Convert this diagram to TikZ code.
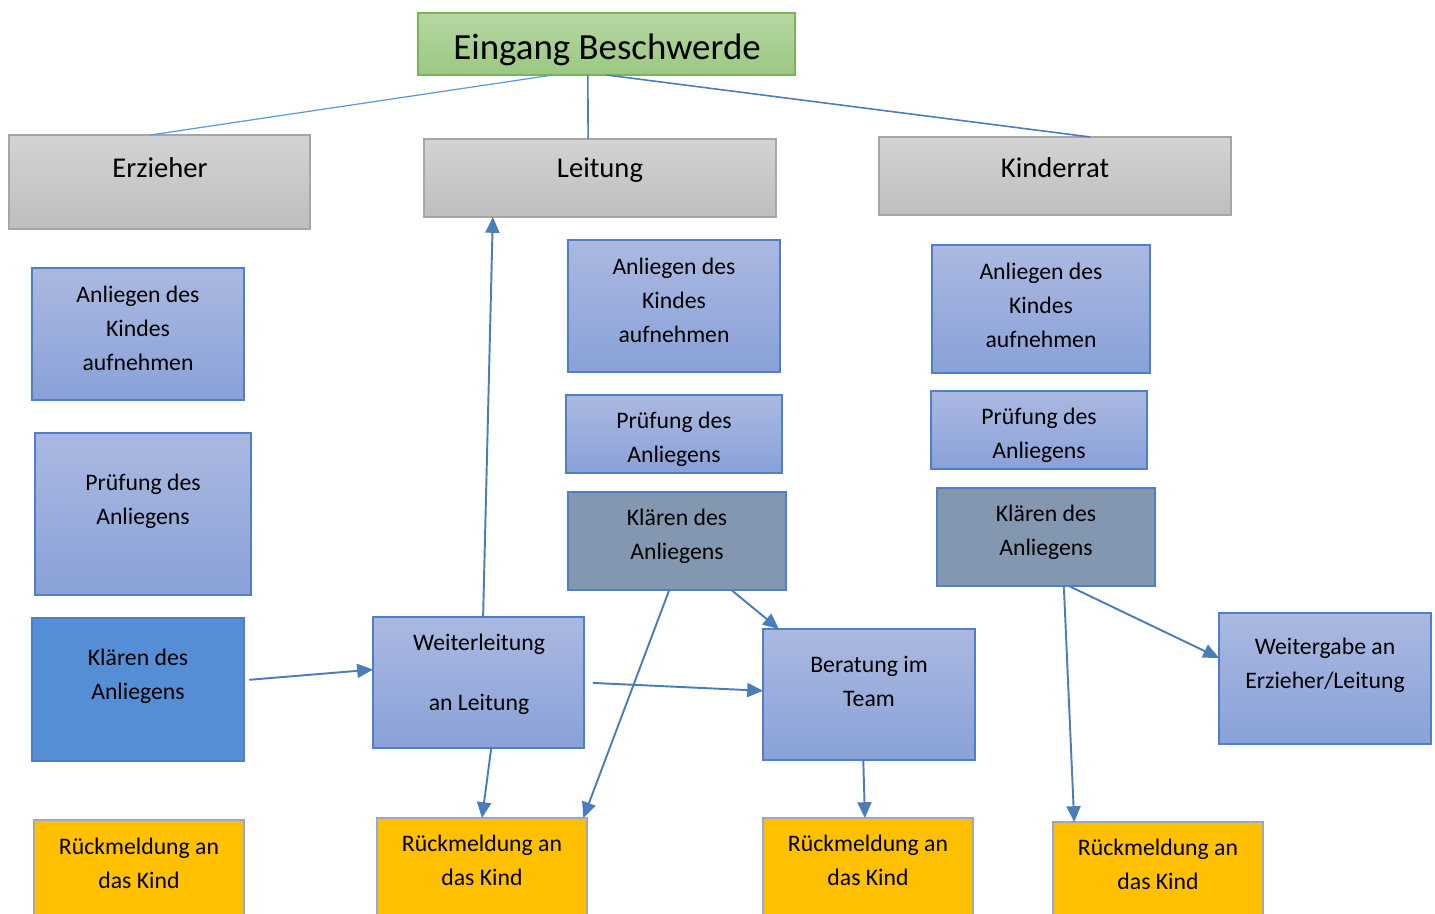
\documentclass[tikz,border=0pt]{standalone}
\usepackage{fontspec}
\setmainfont{Carlito}
\usetikzlibrary{arrows.meta}

\newlength\px
\setlength\px{0.02cm}

\definecolor{gruenoben}{HTML}{B6D7A2}
\definecolor{gruenunten}{HTML}{9BC882}
\definecolor{gruenrand}{HTML}{78B556}
\definecolor{grauoben}{HTML}{D3D3D3}
\definecolor{grauunten}{HTML}{BEBEBE}
\definecolor{graurand}{HTML}{A6A6A6}
\definecolor{blauoben}{HTML}{ABB9E1}
\definecolor{blauunten}{HTML}{89A1D8}
\definecolor{blaurand}{HTML}{4E7FC8}
\definecolor{mittelblau}{HTML}{558ED5}
\definecolor{graublau}{HTML}{8497B0}
\definecolor{gelb}{HTML}{FFC000}
\definecolor{gelbrand}{HTML}{97A8C9}
\definecolor{pfeilblau}{HTML}{4A7EBB}
\definecolor{linienblau}{HTML}{5B9BD5}

\begin{document}
\begin{tikzpicture}[x=0.02cm, y=-0.02cm,
    box/.style={draw, rectangle, inner sep=0pt, outer sep=0pt, line width=0.8pt},
    gruen/.style={box, draw=gruenrand, top color=gruenoben, bottom color=gruenunten},
    grau/.style={box, draw=graurand, top color=grauoben, bottom color=grauunten},
    blau/.style={box, draw=blaurand, top color=blauoben, bottom color=blauunten},
    dunkel/.style={box, draw=blaurand, fill=mittelblau},
    klaeren/.style={box, draw=blaurand, fill=graublau},
    gelbbox/.style={box, draw=gelbrand, fill=gelb},
    txt/.style={align=center, inner sep=0pt, font=\fontsize{13.5}{19.3}\selectfont},
    kopftxt/.style={inner sep=0pt, font=\fontsize{16.3}{19.6}\selectfont},
    pfeil/.style={draw=pfeilblau, line width=1.1pt, -{Triangle[length=9pt,width=8pt]}},
    linie/.style={draw=pfeilblau, line width=0.9pt}]
    \useasboundingbox (0,0) rectangle (1435,913);

    % Kopf
    \node[gruen, minimum width=377\px, minimum height=62\px] (eingang) at (606.5,44) {};
    \node[inner sep=0pt, font=\fontsize{21}{25}\selectfont] (t-eingang) at (607,50) {Eingang Beschwerde};

    % Spalten
    \node[grau, minimum width=301\px, minimum height=94\px] (erz) at (159.5,182) {};
    \node[grau, minimum width=352\px, minimum height=78\px] (leit) at (600,178) {};
    \node[grau, minimum width=352\px, minimum height=78\px] (kind) at (1055,176) {};
    \node[kopftxt] (t-erz) at (160,168) {Erzieher};
    \node[kopftxt] (t-leit) at (600,170) {Leitung};
    \node[kopftxt] (t-kind) at (1055,168) {Kinderrat};

    % Anliegen aufnehmen
    \node[blau, minimum width=212\px, minimum height=132\px] (a1) at (138,334) {};
    \node[blau, minimum width=212\px, minimum height=132\px] (a2) at (674,306) {};
    \node[blau, minimum width=218\px, minimum height=128\px] (a3) at (1041,309) {};
    \node[txt] (t-a1) at (138,328) {Anliegen des\\Kindes\\aufnehmen};
    \node[txt] (t-a2) at (674,300) {Anliegen des\\Kindes\\aufnehmen};
    \node[txt] (t-a3) at (1041,305) {Anliegen des\\Kindes\\aufnehmen};

    % Pruefung
    \node[blau, minimum width=216\px, minimum height=162\px] (p1) at (143,514) {};
    \node[blau, minimum width=216\px, minimum height=78\px] (p2) at (674,434) {};
    \node[blau, minimum width=216\px, minimum height=78\px] (p3) at (1039,430) {};
    \node[txt] (t-p1) at (143,501) {Prüfung des\\Anliegens};
    \node[txt] (t-p2) at (674,439) {Prüfung des\\Anliegens};
    \node[txt] (t-p3) at (1039,435) {Prüfung des\\Anliegens};

    % Klaeren
    \node[dunkel, minimum width=212\px, minimum height=143\px] (k1) at (138,689.5) {};
    \node[klaeren, minimum width=218\px, minimum height=98\px] (k2) at (677,541) {};
    \node[klaeren, minimum width=218\px, minimum height=98\px] (k3) at (1046,537) {};
    \node[txt] (t-k1) at (138,676) {Klären des\\Anliegens};
    \node[txt] (t-k2) at (677,536) {Klären des\\Anliegens};
    \node[txt] (t-k3) at (1046,532) {Klären des\\Anliegens};

    % Weiterleitung, Beratung, Weitergabe
    \node[blau, minimum width=211\px, minimum height=131\px] (w) at (478.5,682.5) {};
    \node[blau, minimum width=212\px, minimum height=131\px] (b) at (869,694.5) {};
    \node[blau, minimum width=212\px, minimum height=131\px] (wg) at (1325,678.5) {};
    \node[txt] (t-w) at (479,674) {Weiterleitung\\[15pt]an Leitung};
    \node[txt] (t-b) at (869,681) {Beratung im\\Team};
    \node[txt] (t-wg) at (1325,665) {Weitergabe an\\Erzieher/Leitung};

    % Rueckmeldung
    \node[gelbbox, minimum width=210\px, minimum height=115\px] (r1) at (139,877.5) {};
    \node[gelbbox, minimum width=210\px, minimum height=117\px] (r2) at (482,876.5) {};
    \node[gelbbox, minimum width=210\px, minimum height=117\px] (r3) at (868,876.5) {};
    \node[gelbbox, minimum width=210\px, minimum height=113\px] (r4) at (1158,878.5) {};
    \node[txt] (t-r1) at (139,863) {Rückmeldung an\\das Kind};
    \node[txt] (t-r2) at (482,860) {Rückmeldung an\\das Kind};
    \node[txt] (t-r3) at (868,860) {Rückmeldung an\\das Kind};
    \node[txt] (t-r4) at (1158,864) {Rückmeldung an\\das Kind};

    % Linien vom Kopf
    \draw[draw=linienblau, line width=0.7pt] (eingang.210) -- (erz.101);
    \draw[linie] (eingang.239) -- (leit.107);
    \draw[linie] (eingang.south) -- (kind.48);

    % Pfeile
    \draw[pfeil] (w.86) -- (leit.200);
    \draw[pfeil, shorten <=3pt] (k1.5) -- (w.173);
    \draw[pfeil, shorten <=5pt] (w.east) -- (b.178);
    \draw[pfeil] (w.281) -- (r2.north);
    \draw[pfeil] (k2.261) -- (r2.30);
    \draw[pfeil] (k2.318) -- (b.144);
    \draw[pfeil] (b.265) -- (r3.93);
    \draw[pfeil] (k3.290) -- (r4.146);
    \draw[pfeil] (k3.295) -- (wg.169);
\end{tikzpicture}
\end{document}
